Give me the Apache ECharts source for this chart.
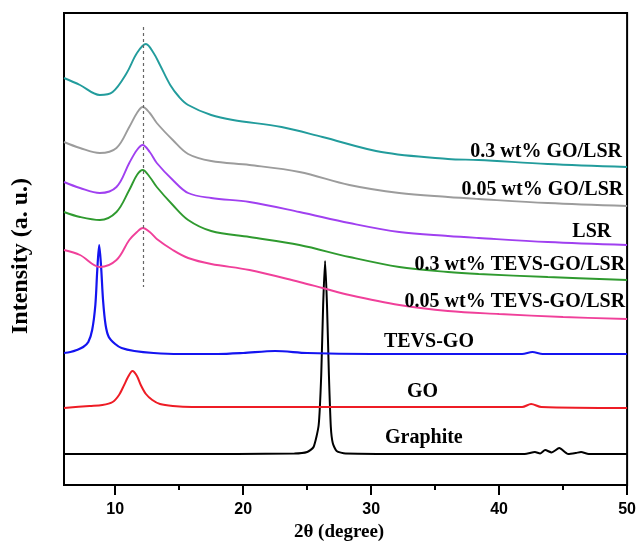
<!DOCTYPE html>
<html>
<head>
<meta charset="utf-8">
<script src="https://cdn.jsdelivr.net/npm/echarts@6/dist/echarts.min.js"></script>
<style>
  html, body { margin: 0; padding: 0; background: #fff; }
  #chart { width: 639px; height: 547px; }
</style>
</head>
<body>
<div id="chart"></div>
<script>
// XRD patterns, [2theta, intensity]
var goLsr03 = [[6,407],[7.25,400],[8.8,390],[9.8,393],[10.9,412],[11.7,432],[12.4,441],[13,432],[13.5,420],[14.3,400],[15,388],[15.7,380],[17.5,370],[19.2,365],[23,358],[26.2,348],[30.8,333],[36,326],[38.4,325],[43.8,321],[50,318]];
var goLsr005 = [[6,343],[7.25,337],[8.8,332],[10.1,337],[11.1,358],[11.7,372],[12.15,378],[12.7,372],[13.25,362],[14.5,345],[15.7,331],[17.5,324],[20.5,320],[24.4,313],[28.3,300],[32.2,292],[36,288],[38.4,286],[43.8,282],[50,279]];
var lsr = [[6,303],[7.25,297],[8.8,292],[10.1,298],[11.1,322],[11.7,335],[12.15,340],[12.7,333],[13.25,322],[14.5,305],[15.7,292],[17.5,287],[20.5,283],[24.4,273],[28.3,262],[32.2,253],[36,249],[38.4,247],[43.8,243],[50,240]];
var tevsLsr03 = [[6,273],[7.25,268],[8.8,265],[10.1,273],[11.1,295],[11.7,310],[12.15,315],[12.7,308],[13.25,298],[14.5,280],[15.7,265],[17.5,254],[20.5,248],[24.4,240],[28.3,228],[32.2,218],[36,213],[38.4,211],[43.8,208],[50,205]];
var tevsLsr005 = [[6,235],[7.25,230],[8.8,218],[10.1,225],[11.1,245],[11.7,253],[12.15,257],[12.7,253],[13.25,246],[14.5,235],[15.7,227],[17.5,221],[20.5,215],[24.4,203],[26.2,197],[28.3,190],[32.2,180],[36,174],[40,171],[45,168],[50,166]];
var tevsGo = [[6,132],[6.5,133],[7,135],[7.5,138],[7.9,143],[8.2,155],[8.45,180],[8.6,215],[8.75,240],[8.9,218],[9.05,185],[9.25,160],[9.5,148],[10,141],[10.5,137],[11.5,134],[13,132],[15,131],[18,131],[20,132],[22.5,134],[25,132],[30,131],[35,131],[41.8,131],[42.6,133],[43.4,131],[50,131]];
var go = [[6,77],[8,79],[9,80],[9.8,83],[10.3,90],[10.7,100],[11,108],[11.35,114],[11.7,109],[12,100],[12.4,91],[12.9,85],[13.5,81],[14.5,79],[16,78],[30,78],[41.8,78],[42.5,81],[43.3,78],[50,77]];
var graphite = [[6,31],[15,31],[24,31.5],[25,33],[25.5,38],[25.9,60],[26.1,110],[26.25,180],[26.4,224],[26.55,180],[26.7,110],[26.85,58],[27,42],[27.3,34],[28,31.5],[35,31],[42,31],[42.8,33],[43.2,31.5],[43.6,35],[44.1,32.5],[44.7,37],[45.4,31],[46,32],[46.4,33],[47,31],[50,31]];

var majorTicks = [10, 20, 30, 40, 50];
var minorTicks = [15, 25, 35, 45];

// curve labels and where they sit (data coords)
var labelText = ['0.3 wt% GO/LSR', '0.05 wt% GO/LSR', 'LSR', '0.3 wt% TEVS-GO/LSR', '0.05 wt% TEVS-GO/LSR', 'TEVS-GO', 'GO', 'Graphite'];
var labelX = [49.6, 49.7, 48.76, 49.85, 49.85, 31.0, 32.8, 31.08];
var labelY = [333, 295, 253, 220, 183, 143, 93, 47];
var labelAlign = ['right', 'right', 'right', 'right', 'right', 'left', 'left', 'left'];

var serif = "'Times New Roman', 'Liberation Serif', serif";

function line(name, data, color, width, smooth) {
  return {
    name: name, type: 'line', data: data, symbol: 'none', smooth: smooth,
    lineStyle: { color: color, width: width }, silent: true, z: 2
  };
}

var chart = echarts.init(document.getElementById('chart'));

var option = {
  animation: false,
  grid: { left: 64, right: 10, top: 13, bottom: 62, show: true, borderColor: '#000', borderWidth: 2 },
  xAxis: [{
    type: 'value', min: 6, max: 50,
    name: '2θ (degree)', nameLocation: 'middle', nameGap: 34,
    nameTextStyle: { fontFamily: serif, fontWeight: 'bold', fontSize: 19, color: '#000', padding: [0, 13, 0, 0] },
    axisLine: { lineStyle: { color: '#000', width: 2 } },
    axisTick: { show: true, length: 10, lineStyle: { color: '#000', width: 2 }, customValues: majorTicks },
    axisLabel: { customValues: majorTicks, fontFamily: "Arial, 'Liberation Sans', sans-serif", fontWeight: 'bold', fontSize: 16, color: '#000', margin: 17 },
    splitLine: { show: false }
  }, {
    type: 'value', min: 6, max: 50, position: 'bottom',
    axisLine: { show: false },
    axisTick: { show: true, length: 5, lineStyle: { color: '#000', width: 2 }, customValues: minorTicks },
    axisLabel: { show: false },
    splitLine: { show: false }
  }],
  yAxis: {
    type: 'value', min: 0, max: 472,
    name: 'Intensity (a. u.)', nameLocation: 'middle', nameGap: 31, nameRotate: 90,
    nameTextStyle: { fontFamily: serif, fontWeight: 'bold', fontSize: 24, color: '#000', padding: [0, 14, 0, 0] },
    axisLine: { show: true, lineStyle: { color: '#000', width: 2 } },
    axisTick: { show: false },
    axisLabel: { show: false },
    splitLine: { show: false }
  },
  series: [
    line('Graphite', graphite, '#000000', 2, 0.2),
    line('GO', go, '#ee1c25', 2, 0.3),
    line('TEVS-GO', tevsGo, '#1414f0', 2.2, 0.3),
    line('0.05 wt% TEVS-GO/LSR', tevsLsr005, '#f0409a', 1.9, 0.35),
    line('0.3 wt% TEVS-GO/LSR', tevsLsr03, '#2f9a2f', 1.9, 0.35),
    line('LSR', lsr, '#a040f0', 1.9, 0.35),
    line('0.05 wt% GO/LSR', goLsr005, '#9c9c9c', 1.9, 0.35),
    Object.assign(line('0.3 wt% GO/LSR', goLsr03, '#229c9c', 1.9, 0.35), {
      markLine: {
        silent: true, symbol: ['none', 'none'], label: { show: false },
        lineStyle: { color: '#666', width: 1.2, type: [3, 3] },
        data: [[{ coord: [12.2, 458] }, { coord: [12.2, 198] }]]
      }
    })
  ]
};

chart.setOption(option);

var graphics = labelText.map(function (t, i) {
  var p = chart.convertToPixel({ gridIndex: 0 }, [labelX[i], labelY[i]]);
  return {
    type: 'text', x: p[0], y: p[1], z: 10,
    style: {
      text: t, fill: '#000', font: 'bold 20px ' + serif,
      align: labelAlign[i], verticalAlign: 'middle',
      textAlign: labelAlign[i], textVerticalAlign: 'middle'
    }
  };
});
chart.setOption({ graphic: graphics });
</script>
</body>
</html>
